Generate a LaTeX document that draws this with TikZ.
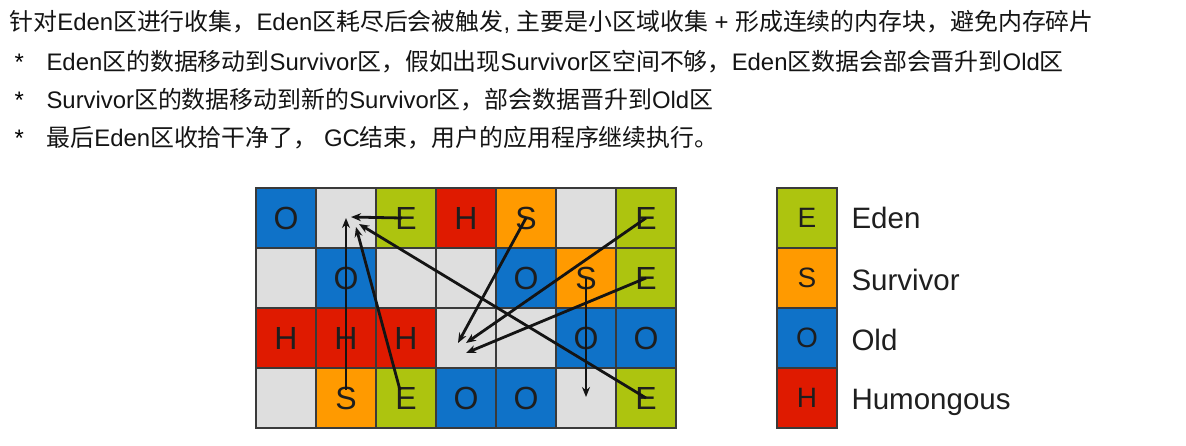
\documentclass[tikz,border=0pt]{standalone}
\usepackage{fontspec}
\setmainfont{Liberation Sans}
\newfontfamily\cjk{Noto Sans CJK SC}
\usetikzlibrary{arrows.meta}
\newcommand\zhs[1]{{\cjk #1}}
\definecolor{cE}{HTML}{ADC40F}
\definecolor{cS}{HTML}{FF9A00}
\definecolor{cO}{HTML}{0F72C8}
\definecolor{cH}{HTML}{DF1A00}
\definecolor{cG}{HTML}{DEDEDE}
\definecolor{cellline}{HTML}{3A3A3A}
\definecolor{letter}{HTML}{1E1E1E}
\begin{document}
\begin{tikzpicture}[x=1pt,y=-1pt,
  cell/.style={draw=cellline, line width=1.6pt, minimum size=60pt, inner sep=0pt,
    font=\fontsize{32}{32}\selectfont, text=letter},
  lcell/.style={cell, font=\fontsize{28}{28}\selectfont},
  eden/.style={cell, fill=cE}, surv/.style={cell, fill=cS},
  old/.style={cell, fill=cO}, hum/.style={cell, fill=cH}, free/.style={cell, fill=cG},
  line/.style={anchor=base west, font=\fontsize{23.9}{23.9}\selectfont, text=black!92},
  bullet/.style={anchor=base west, font=\fontsize{23.9}{23.9}\selectfont},
  legtext/.style={anchor=west, font=\fontsize{29.5}{29.5}\selectfont, text=black!88},
  arr/.style={draw=black!92, line width=2.8pt, -{Stealth[length=10pt,width=8pt]}}]
\useasboundingbox (0,0) rectangle (1186,445);
\fill[white] (0,0) rectangle (1186,445);

% text
\node[line] (l1) at (6,30) {\zhs{针对}Eden\zhs{区进行收集，}Eden\zhs{区耗尽后会被触发}, \zhs{主要是小区域收集} + \zhs{形成连续的内存块，避免内存碎片}};
\node[bullet] (b2) at (11,70) {*};
\node[line] (l2) at (43,70) {Eden\zhs{区的数据移动到}Survivor\zhs{区，假如出现}Survivor\zhs{区空间不够，}Eden\zhs{区数据会部会晋升到}Old\zhs{区}};
\node[bullet] (b3) at (11,108) {*};
\node[line] (l3) at (43,108) {Survivor\zhs{区的数据移动到新的}Survivor\zhs{区，部会数据晋升到}Old\zhs{区}};
\node[bullet] (b4) at (11,146) {*};
\node[line] (l4) at (43,146) {\zhs{最后}Eden\zhs{区收拾干净了，} GC\zhs{结束，用户的应用程序继续执行。}};

% grid row 0
\node[old]  (c00) at (286,218) {O};
\node[free] (c10) at (346,218) {};
\node[eden] (c20) at (406,218) {E};
\node[hum]  (c30) at (466,218) {H};
\node[surv] (c40) at (526,218) {S};
\node[free] (c50) at (586,218) {};
\node[eden] (c60) at (646,218) {E};
% row 1
\node[free] (c01) at (286,278) {};
\node[old]  (c11) at (346,278) {O};
\node[free] (c21) at (406,278) {};
\node[free] (c31) at (466,278) {};
\node[old]  (c41) at (526,278) {O};
\node[surv] (c51) at (586,278) {S};
\node[eden] (c61) at (646,278) {E};
% row 2
\node[hum]  (c02) at (286,338) {H};
\node[hum]  (c12) at (346,338) {H};
\node[hum]  (c22) at (406,338) {H};
\node[free] (c32) at (466,338) {};
\node[free] (c42) at (526,338) {};
\node[old]  (c52) at (586,338) {O};
\node[old]  (c62) at (646,338) {O};
% row 3
\node[free] (c03) at (286,398) {};
\node[surv] (c13) at (346,398) {S};
\node[eden] (c23) at (406,398) {E};
\node[old]  (c33) at (466,398) {O};
\node[old]  (c43) at (526,398) {O};
\node[free] (c53) at (586,398) {};
\node[eden] (c63) at (646,398) {E};

% arrow ends
\coordinate (t1) at (351,217);
\coordinate (t2) at (346,218);
\coordinate (t3) at (356,227);
\coordinate (t4) at (359,224);
\coordinate (t5) at (458,343);
\coordinate (t6) at (466,343);
\coordinate (t7) at (466,353);
\coordinate (t8) at (586,397);
\coordinate (s1) at (402,218);
\coordinate (s2) at (346,390);
\coordinate (s3) at (400,390);

\draw[arr] (s1) -- (t1);
\draw[arr] (s2) -- (t2);
\draw[arr] (s3) -- (t3);
\draw[arr] (c63.center) -- (t4);
\draw[arr] (c40.center) -- (t5);
\draw[arr] (c60.center) -- (t6);
\draw[arr] (c61.center) -- (t7);
\draw[arr] (c51.center) -- (t8);

% legend
\node[lcell, fill=cE] (le) at (807,218) {E};
\node[lcell, fill=cS] (ls) at (807,278) {S};
\node[lcell, fill=cO] (lo) at (807,338) {O};
\node[lcell, fill=cH] (lh) at (807,398) {H};
\node[legtext] (te) at (848,218) {Eden};
\node[legtext] (ts) at (848,280) {Survivor};
\node[legtext] (to) at (848,340) {Old};
\node[legtext] (th) at (848,402) {Humongous};
\end{tikzpicture}
\end{document}
